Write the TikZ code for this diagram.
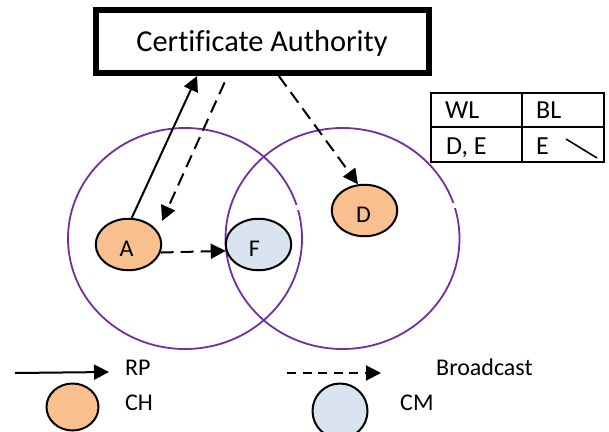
\documentclass[tikz,border=0pt]{standalone}
\usepackage{fontspec}
\setmainfont[Ligatures=NoCommon]{Carlito}
\usetikzlibrary{shapes.geometric,arrows.meta}
\definecolor{chfill}{HTML}{F9C08F}
\definecolor{cmfill}{HTML}{DAE3F0}
\definecolor{ringc}{HTML}{7030A0}
\tikzset{
  ring/.style={draw=ringc,line width=1.8pt},
  head/.style={-{Triangle[length=15pt,width=15pt]},line width=2pt,black},
  dashy/.style={head,dash pattern=on 13pt off 7pt},
  chnode/.style={ellipse,draw=black,line width=2pt,fill=chfill,inner sep=0pt,minimum width=65.5pt,minimum height=51.5pt},
  cmnode/.style={ellipse,draw=black,line width=2pt,fill=cmfill,inner sep=0pt,minimum width=65.5pt,minimum height=51.5pt},
  lbl/.style={anchor=base west,inner sep=0pt,font=\fontsize{24}{26}\selectfont},
  tbl/.style={anchor=base west,inner sep=0pt,font=\fontsize{26}{28}\selectfont},
  grid/.style={line width=2pt,black}
}
\begin{document}
\begin{tikzpicture}[x=1pt,y=-1pt]
\clip (0,0) rectangle (609,431);
\useasboundingbox (0,0) rectangle (609,431);
\fill[white] (0,0) rectangle (609,431);
% rings
\draw[ring] (185,238.5) ellipse [x radius=117,y radius=110.5];
\draw[ring] (342.5,238.5) ellipse [x radius=117,y radius=110.5];
\fill[white] (292,205) rectangle (303,210);
\fill[white] (449,203) rectangle (461,208);
% authority
\node[draw=black,line width=6pt,fill=white,minimum width=333pt,minimum height=63pt,inner sep=0pt] (ca) at (262,41.5) {};
\node[anchor=base,inner sep=0pt,font=\fontsize{30.4}{32}\selectfont] (catext) at (262,51) {Certificate Authority};
% nodes
\node[chnode] (a) at (128.5,244.5) {};
\node[cmnode] (f) at (258.5,244.5) {};
\node[chnode] (d) at (364.5,210.5) {};
\node[anchor=base,inner sep=0pt,font=\fontsize{24}{26}\selectfont] (atext) at (126.5,256) {A};
\node[anchor=base,inner sep=0pt,font=\fontsize{24}{26}\selectfont] (ftext) at (254.5,256) {F};
\begin{scope}
\clip (340,200) rectangle (390,221);
\node[anchor=base,inner sep=0pt,font=\fontsize{24}{26}\selectfont] (dtext) at (363.5,222.5) {D};
\end{scope}
% connectors
\coordinate (atip) at (162,221);
\draw[head] (a.83) -- (ca.208.3);
\draw[dashy,shorten <=7pt] (ca.225.6) -- (atip);
\draw[dashy] (ca.296.2) -- (d.104);
\draw[dashy] (a.-14) -- (f.191);
% table
\draw[grid] (431,93) rectangle (604,162);
\draw[grid] (431,127) -- (604,127);
\draw[grid] (522,93) -- (522,162);
\node[tbl] (wl) at (445,118.5) {WL};
\node[tbl] (bl) at (536,118.5) {BL};
\node[tbl] (de) at (446,154) {D, E};
\node[tbl] (e) at (536,154) {E};
\coordinate (s1) at (566,139);
\coordinate (s2) at (597,158);
\draw[line width=1.6pt] (s1) -- (s2);
% legend
\coordinate (r1) at (15,373);
\coordinate (r2) at (109,372);
\draw[head] (r1) -- (r2);
\coordinate (b1) at (287,373);
\coordinate (b2) at (381,373);
\draw[dashy,dash pattern=on 9pt off 6.5pt] (b1) -- (b2);
\node[lbl] (rp) at (125,375.5) {RP};
\node[lbl] (ch) at (125,410) {CH};
\node[lbl] (bc) at (436,375.5) {Broadcast};
\node[lbl] (cm) at (400,410) {CM};
\node[ellipse,draw=black,line width=2pt,fill=chfill,inner sep=0pt,minimum width=52pt,minimum height=47pt] (lch) at (72.5,407) {};
\node[ellipse,draw=black,line width=2pt,fill=cmfill,inner sep=0pt,minimum width=55pt,minimum height=55pt] (lcm) at (340,411) {};
\end{tikzpicture}
\end{document}
